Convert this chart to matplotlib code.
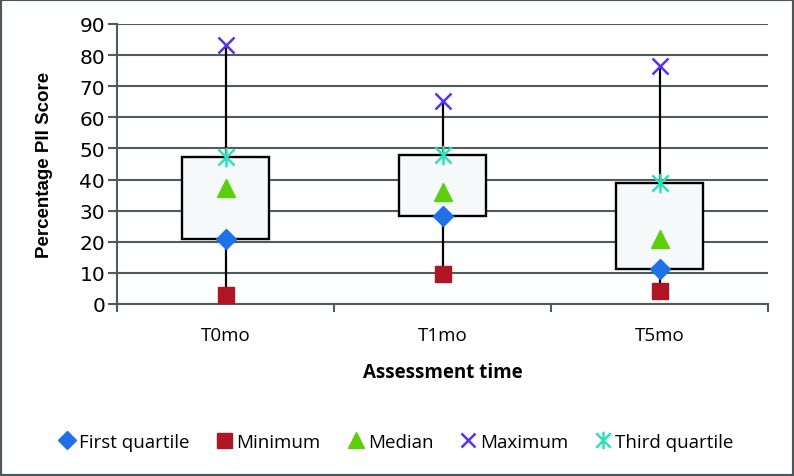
import matplotlib
matplotlib.use("Agg")
import matplotlib.pyplot as plt
from matplotlib.path import Path
from matplotlib.patches import Rectangle
import numpy as np

categories = ["T0mo", "T1mo", "T5mo"]
first_quartile = [20.9, 28.4, 11.1]
minimum = [2.9, 9.6, 4.3]
median = [37.2, 36.0, 20.9]
maximum = [83.3, 65.4, 76.6]
third_quartile = [47.4, 48.0, 39.0]

GRID = "#4f5c59"
fig = plt.figure(figsize=(7.94, 4.77), dpi=100)
ax = fig.add_axes([117/794, 1-305/477, (768-117)/794, (305-25)/477])

x = np.arange(1, len(categories) + 1)

# whiskers
ax.vlines(x, minimum, maximum, color="black", lw=1.6, zorder=2)
# boxes
heights = np.array(third_quartile) - np.array(first_quartile)
ax.bar(x, heights, bottom=first_quartile, width=0.4, color="#f5f9fa",
       edgecolor="black", linewidth=1.7, zorder=3)

# asterisk marker: X with vertical line
star = Path([(-0.5, -0.5), (0.5, 0.5), (-0.5, 0.5), (0.5, -0.5), (0, -0.6), (0, 0.6)],
            [Path.MOVETO, Path.LINETO, Path.MOVETO, Path.LINETO, Path.MOVETO, Path.LINETO])

c_q1, c_min, c_med, c_max, c_q3 = "#2070e8", "#b01525", "#5ccf0c", "#5a32e6", "#2fe0bd"
ax.plot(x, first_quartile, "D", color=c_q1, ms=10, zorder=5, label="First quartile", mec=c_q1)
ax.plot(x, minimum, "s", color=c_min, ms=12, zorder=5, label="Minimum")
ax.plot(x, median, "^", color=c_med, ms=13, zorder=5, label="Median")
ax.plot(x, maximum, marker="x", ls="none", color=c_max, ms=11, mew=1.8, zorder=5, label="Maximum")
ax.plot(x, third_quartile, marker=star, ls="none", color=c_q3, ms=14, mew=1.8, zorder=5, label="Third quartile")

ax.set_xlim(0.5, 3.5)
ax.set_ylim(0, 90)
ax.set_yticks(np.arange(0, 91, 10))
ax.yaxis.grid(True, color=GRID, lw=1.5, zorder=0)
ax.set_axisbelow(True)
for s in ["top", "right"]:
    ax.spines[s].set_visible(False)
ax.spines["left"].set_color(GRID)
ax.spines["left"].set_linewidth(1.5)
ax.spines["bottom"].set_color(GRID)
ax.spines["bottom"].set_linewidth(1.5)

ax.tick_params(axis="y", length=6.5, width=1.5, color=GRID, pad=2, labelsize=14.5)
for t in ax.get_yticklabels():
    t.set_fontfamily("DejaVu Sans")
ax.set_xticks(x)
ax.set_xticklabels(categories, fontfamily="Open Sans", fontsize=13.5)
ax.tick_params(axis="x", which="major", length=0, pad=16)
ax.set_xticks([0.5, 1.5, 2.5, 3.5], minor=True)
ax.tick_params(axis="x", which="minor", length=6, width=1.5, color=GRID)

ax.set_ylabel("Percentage PII Score", fontfamily="Liberation Sans", fontweight="bold",
              fontsize=13.5, labelpad=19)
ax.set_xlabel("Assessment time", fontfamily="Open Sans", fontweight="bold",
              fontsize=13.5, labelpad=13)

leg = fig.legend(loc="center", bbox_to_anchor=(0.5, 1-443/477), ncol=5, frameon=False,
                 prop={"family": "Open Sans", "size": 13.5}, handlelength=0.7,
                 handletextpad=0.3, columnspacing=1.5, markerscale=0.9)

fig.patches.append(Rectangle((0, 0), 1, 1, transform=fig.transFigure, fill=False,
                             edgecolor="#4a5858", linewidth=3, zorder=10))

fig.savefig("out.png", dpi=100)
